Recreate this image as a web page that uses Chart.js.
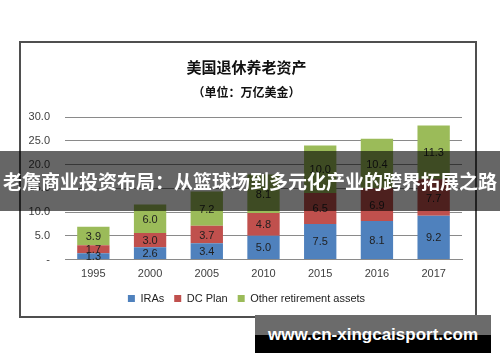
<!DOCTYPE html>
<html><head><meta charset="utf-8">
<script src="https://cdn.jsdelivr.net/npm/chart.js@4.4.0/dist/chart.umd.min.js"></script>
<style>
html,body{margin:0;padding:0;background:#fff;}
#wrap{position:relative;width:500px;height:362px;overflow:hidden;}
#frame{position:absolute;left:19px;top:41px;width:458px;height:277px;box-sizing:border-box;border:2px solid #4f4f4f;}
#c{position:absolute;left:0;top:0;}
#banner{position:absolute;left:0;top:151px;width:500px;height:60px;background:rgba(0,0,0,0.6);color:#fff;font-weight:bold;font-size:19px;font-family:"Noto Sans CJK SC";line-height:60px;text-align:center;white-space:nowrap;z-index:5;}
#wm{position:absolute;left:255px;top:315px;width:236px;height:38px;box-sizing:border-box;padding-top:2px;background:linear-gradient(#6b6b6b 0,#6b6b6b 20px,#000 20px,#000 100%);color:#fff;font-weight:bold;font-size:17px;font-family:"Liberation Sans";line-height:36px;text-align:center;white-space:nowrap;z-index:5;}
</style></head>
<body>
<div id="wrap">
<div id="frame"></div>
<canvas id="c" width="500" height="362"></canvas>
<div id="banner">老詹商业投资布局：从篮球场到多元化产业的跨界拓展之路</div>
<div id="wm">www.cn-xingcaisport.com</div>
</div>
<script>
const titleText = "美国退休养老资产";
const subtitleText = "（单位：万亿美金）";
const years = ["1995", "2000", "2005", "2010", "2015", "2016", "2017"];
const iras = [1.3, 2.6, 3.4, 5.0, 7.5, 8.1, 9.2];
const dcPlan = [1.7, 3.0, 3.7, 4.8, 6.5, 6.9, 7.7];
const otherAssets = [3.9, 6.0, 7.2, 8.1, 10.0, 10.4, 11.3];
const seriesNames = ["IRAs", "DC Plan", "Other retirement assets"];
const yTicks = [0, 5, 10, 15, 20, 25, 30];

const numFont = '"Liberation Sans", sans-serif';

const valueLabels = {
  id: 'valueLabels',
  afterDatasetsDraw(chart) {
    const ctx = chart.ctx;
    ctx.save();
    ctx.font = '11px ' + numFont;
    ctx.fillStyle = '#1f1f1f';
    ctx.textAlign = 'center';
    ctx.textBaseline = 'middle';
    chart.data.datasets.forEach((ds, i) => {
      const meta = chart.getDatasetMeta(i);
      meta.data.forEach((el, j) => {
        const v = ds.data[j];
        ctx.fillText(v.toFixed(1), el.x, (el.y + el.base) / 2 + 1);
      });
    });
    ctx.restore();
  }
};

new Chart(document.getElementById('c'), {
  type: 'bar',
  data: {
    labels: years,
    datasets: [
      { label: seriesNames[0], data: iras, backgroundColor: '#4F81BD' },
      { label: seriesNames[1], data: dcPlan, backgroundColor: '#C0504D' },
      { label: seriesNames[2], data: otherAssets, backgroundColor: '#9BBB59' }
    ]
  },
  options: {
    responsive: false,
    animation: false,
    layout: { padding: { left: 0, right: 7, top: 40, bottom: 48 } },
    datasets: { bar: { categoryPercentage: 1.0, barPercentage: 0.57 } },
    scales: {
      x: {
        stacked: true,
        grid: { display: false, drawTicks: false },
        border: { display: true, color: '#8a8a8a' },
        ticks: { padding: 8, color: '#404040', font: { family: numFont, size: 11 } },
        afterFit(s) { s.height = 23.5; }
      },
      y: {
        stacked: true,
        min: 0, max: 30,
        afterBuildTicks(s) { s.ticks = yTicks.map(v => ({ value: v })); },
        grid: { color: '#8a8a8a', drawTicks: false },
        border: { display: false },
        ticks: {
          padding: 15, color: '#404040', font: { family: numFont, size: 11 },
          callback: v => v === 0 ? '-' : v.toFixed(1)
        },
        afterFit(s) { s.width = 65; }
      },
      yRight: {
        position: 'right',
        display: true,
        grid: { display: false, drawTicks: false },
        border: { display: false },
        ticks: { display: false },
        afterFit(s) { s.width = 31; }
      }
    },
    plugins: {
      title: {
        display: true, text: titleText, color: '#111',
        font: { family: '"Noto Sans CJK SC"', size: 15, weight: 'bold' },
        padding: { top: 18, bottom: 8.8 }
      },
      subtitle: {
        display: true, text: subtitleText, color: '#111',
        font: { family: '"Noto Sans CJK SC"', size: 12, weight: 'bold' },
        padding: { top: 0, bottom: 17.8 }
      },
      legend: {
        position: 'bottom',
        labels: {
          boxWidth: 7, boxHeight: 7, padding: 10, color: '#222',
          font: { family: numFont, size: 11 }
        }
      },
      tooltip: { enabled: false }
    }
  },
  plugins: [valueLabels]
});
</script>
</body></html>
